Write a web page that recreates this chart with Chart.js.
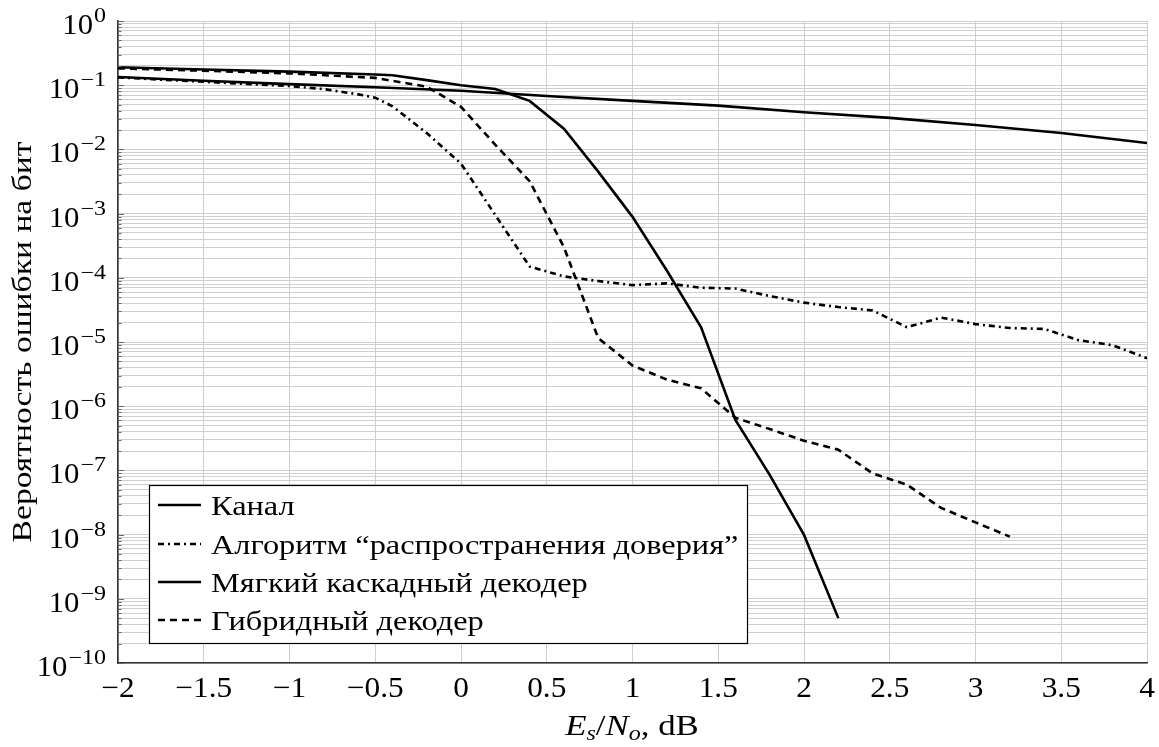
<!DOCTYPE html>
<html><head><meta charset="utf-8">
<script src="https://cdn.jsdelivr.net/npm/chart.js@4/dist/chart.umd.min.js"></script>
<style>html,body{margin:0;padding:0;background:#fff;}canvas{display:block;}</style>
</head><body>
<canvas id="c" width="1159" height="747"></canvas>
<script>
// ---- data ----
const seriesNames = ['Канал', 'Алгоритм “распространения доверия”', 'Мягкий каскадный декодер', 'Гибридный декодер'];
const channelX = [-2, -1.5, -1, -0.5, 0, 0.5, 1, 1.5, 2, 2.5, 3, 3.5, 4];
const channelY = [0.134, 0.117, 0.104, 0.093, 0.082, 0.068, 0.057, 0.048, 0.038, 0.031, 0.024, 0.018, 0.0126];
const bpX = [-2, -1.5, -1, -0.8, -0.6, -0.5, -0.4, -0.2, 0, 0.2, 0.4, 0.6, 0.8, 1.0, 1.2, 1.4, 1.6, 1.8, 2.0, 2.2, 2.4, 2.6, 2.8, 3.0, 3.2, 3.4, 3.6, 3.8, 4.0];
const bpY = [0.132, 0.113, 0.097, 0.087, 0.072, 0.064, 0.047, 0.018, 6e-3, 9.5e-4, 1.5e-4, 1.05e-4, 8.9e-5, 7.7e-5, 8.2e-5, 7e-5, 6.8e-5, 5.2e-5, 4.1e-5, 3.5e-5, 3.1e-5, 1.7e-5, 2.4e-5, 1.9e-5, 1.65e-5, 1.6e-5, 1.07e-5, 8.9e-6, 5.6e-6];
const softX = [-2, -1.5, -1, -0.5, -0.4, -0.2, 0, 0.2, 0.4, 0.6, 0.8, 1.0, 1.2, 1.4, 1.6, 1.8, 2.0, 2.2];
const softY = [0.19, 0.176, 0.163, 0.147, 0.143, 0.12, 0.1, 0.087, 0.057, 0.021, 4.5e-3, 8.9e-4, 1.3e-4, 1.7e-5, 6.1e-7, 8.5e-8, 9.9e-9, 5e-10];
const hybridX = [-2, -1.5, -1, -0.5, -0.2, 0, 0.2, 0.4, 0.6, 0.8, 1.0, 1.2, 1.4, 1.6, 1.8, 2.0, 2.2, 2.4, 2.6, 2.8, 3.0, 3.2];
const hybridY = [0.183, 0.168, 0.153, 0.13, 0.095, 0.046, 0.0118, 3.2e-3, 3e-4, 1.15e-5, 4.3e-6, 2.6e-6, 1.9e-6, 6.6e-7, 4.4e-7, 2.9e-7, 2.1e-7, 9e-8, 6e-8, 2.6e-8, 1.55e-8, 9.3e-9];
const xTickValues = [-2, -1.5, -1, -0.5, 0, 0.5, 1, 1.5, 2, 2.5, 3, 3.5, 4];
const yTickExponents = [0, -1, -2, -3, -4, -5, -6, -7, -8, -9, -10];
const yAxisTitle = 'Вероятность ошибки на бит';

// ---- helpers ----
const pts = (xs, ys) => xs.map((x, i) => ({x: x, y: ys[i]}));
const SERIF = '"Liberation Serif", "DejaVu Serif", serif';
const fmtX = v => (v < 0 ? '\u2212' : '') + String(Math.abs(v));

// draw text horizontally stretched by sx; returns drawn width
function sText(ctx, text, x, y, font, sx, align) {
  ctx.save();
  ctx.font = font;
  const w = ctx.measureText(text).width * sx;
  let x0 = x;
  if (align === 'center') x0 = x - w / 2;
  else if (align === 'right') x0 = x - w;
  ctx.translate(x0, y);
  ctx.scale(sx, 1);
  ctx.textAlign = 'left';
  ctx.fillText(text, 0, 0);
  ctx.restore();
  return w;
}
function sWidth(ctx, text, font, sx) {
  ctx.save(); ctx.font = font; const w = ctx.measureText(text).width * sx; ctx.restore(); return w;
}

const dashDot = [6, 4, 2, 4];
const dashed = [7, 5];
const dashes = [[], dashDot, [], dashed];

const datasets = [
  {label: seriesNames[0], data: pts(channelX, channelY)},
  {label: seriesNames[1], data: pts(bpX, bpY)},
  {label: seriesNames[2], data: pts(softX, softY)},
  {label: seriesNames[3], data: pts(hybridX, hybridY)}
].map((d, i) => Object.assign(d, {borderDash: dashes[i], borderColor: '#000', borderWidth: 2.6, pointRadius: 0, tension: 0, fill: false, borderCapStyle: 'butt', borderJoinStyle: 'miter'}));

const overlay = {
  id: 'overlay',
  afterDraw(chart) {
    const ctx = chart.ctx;
    const ys = chart.scales.y, xs = chart.scales.x;
    const area = chart.chartArea;
    ctx.save();
    // y tick marks
    ctx.strokeStyle = '#666';
    ctx.lineWidth = 1;
    ys.ticks.forEach(t => {
      const y = Math.round(ys.getPixelForValue(t.value)) + 0.5;
      const lg = Math.log10(t.value);
      const major = Math.abs(lg - Math.round(lg)) < 1e-9;
      ctx.beginPath();
      ctx.moveTo(area.left, y);
      ctx.lineTo(area.left + (major ? 6 : 3.5), y);
      ctx.stroke();
    });
    ctx.fillStyle = '#000';
    ctx.textBaseline = 'alphabetic';
    // y tick labels with superscripts
    const fBase = '29px ' + SERIF, fSup = '20px ' + SERIF;
    yTickExponents.forEach(e => {
      const y = ys.getPixelForValue(Math.pow(10, e));
      const sup = (e < 0 ? '\u2212' : '') + String(Math.abs(e));
      const wb = sWidth(ctx, '10', fBase, 1.06);
      const ws = sWidth(ctx, sup, fSup, 1.2);
      const right = 106;
      const x0 = right - ws - wb - 1;
      sText(ctx, '10', x0, y + 13, fBase, 1.06, 'left');
      sText(ctx, sup, x0 + wb + 1, y + 1, fSup, 1.2, 'left');
    });
    // x tick labels
    xTickValues.forEach(v => {
      const x = xs.getPixelForValue(v);
      sText(ctx, fmtX(v), x, 697, '29px ' + SERIF, 1.08, 'center');
    });
    // y axis title
    ctx.save();
    ctx.translate(31, (area.top + area.bottom) / 2);
    ctx.rotate(-Math.PI / 2);
    sText(ctx, yAxisTitle, 0, 0, '28px ' + SERIF, 1.2, 'center');
    ctx.restore();
    // x axis title: E_s/N_o, dB
    const parts = [
      {t: 'E', f: 'italic 29px ' + SERIF, dy: 0},
      {t: 's', f: 'italic 20px ' + SERIF, dy: 5},
      {t: '/', f: '29px ' + SERIF, dy: 0},
      {t: 'N', f: 'italic 29px ' + SERIF, dy: 0},
      {t: 'o', f: 'italic 20px ' + SERIF, dy: 5},
      {t: ', dB', f: '29px ' + SERIF, dy: 0}
    ];
    const SX = 1.2;
    let tw = 0;
    parts.forEach(p => { p.w = sWidth(ctx, p.t, p.f, SX); tw += p.w; });
    let cx = 632 - tw / 2;
    parts.forEach(p => { sText(ctx, p.t, cx, 735 + p.dy, p.f, SX, 'left'); cx += p.w; });
    // legend
    const lx = 149, ly = 485, lw = 598, lh = 158;
    ctx.fillStyle = '#fff';
    ctx.fillRect(lx, ly, lw, lh);
    ctx.strokeStyle = '#000';
    ctx.lineWidth = 1.2;
    ctx.strokeRect(lx + 0.5, ly + 0.5, lw, lh);
    const rowY = [505, 544, 582, 620];
    chart.data.datasets.forEach((d, i) => {
      ctx.save();
      ctx.strokeStyle = '#000';
      ctx.lineWidth = 2.6;
      ctx.lineCap = 'butt';
      ctx.setLineDash(d.borderDash || []);
      ctx.beginPath();
      ctx.moveTo(158, rowY[i]);
      ctx.lineTo(201, rowY[i]);
      ctx.stroke();
      ctx.restore();
      ctx.fillStyle = '#000';
      sText(ctx, d.label, 211, rowY[i] + 10, '28px ' + SERIF, 1.155, 'left');
    });
    ctx.restore();
  }
};

new Chart(document.getElementById('c'), {
  type: 'line',
  data: {datasets: datasets},
  options: {
    responsive: false,
    animation: false,
    devicePixelRatio: 1,
    layout: {padding: {top: 21, right: 12, left: 0, bottom: 0}},
    plugins: {legend: {display: false}, tooltip: {enabled: false}, title: {display: false}},
    scales: {
      x: {
        type: 'linear', min: -2, max: 4,
        afterBuildTicks: s => { s.ticks = xTickValues.map(v => ({value: v})); },
        grid: {color: '#cfcfcf', lineWidth: 1, drawTicks: false},
        border: {display: true, color: '#333', width: 1.6},
        ticks: {display: false},
        afterFit: s => { s.height = 84; }
      },
      y: {
        type: 'logarithmic', min: 1e-10, max: 1,
        afterBuildTicks: s => {
          const t = [];
          for (let e = -10; e < 0; e++) for (let m = 1; m <= 9; m++) t.push({value: m * Math.pow(10, e)});
          t.push({value: 1});
          s.ticks = t;
        },
        grid: {color: '#cfcfcf', lineWidth: 1, drawTicks: false},
        border: {display: true, color: '#333', width: 1.6},
        ticks: {display: false},
        afterFit: s => { s.width = 118; }
      }
    }
  },
  plugins: [overlay]
});
</script>
</body></html>
